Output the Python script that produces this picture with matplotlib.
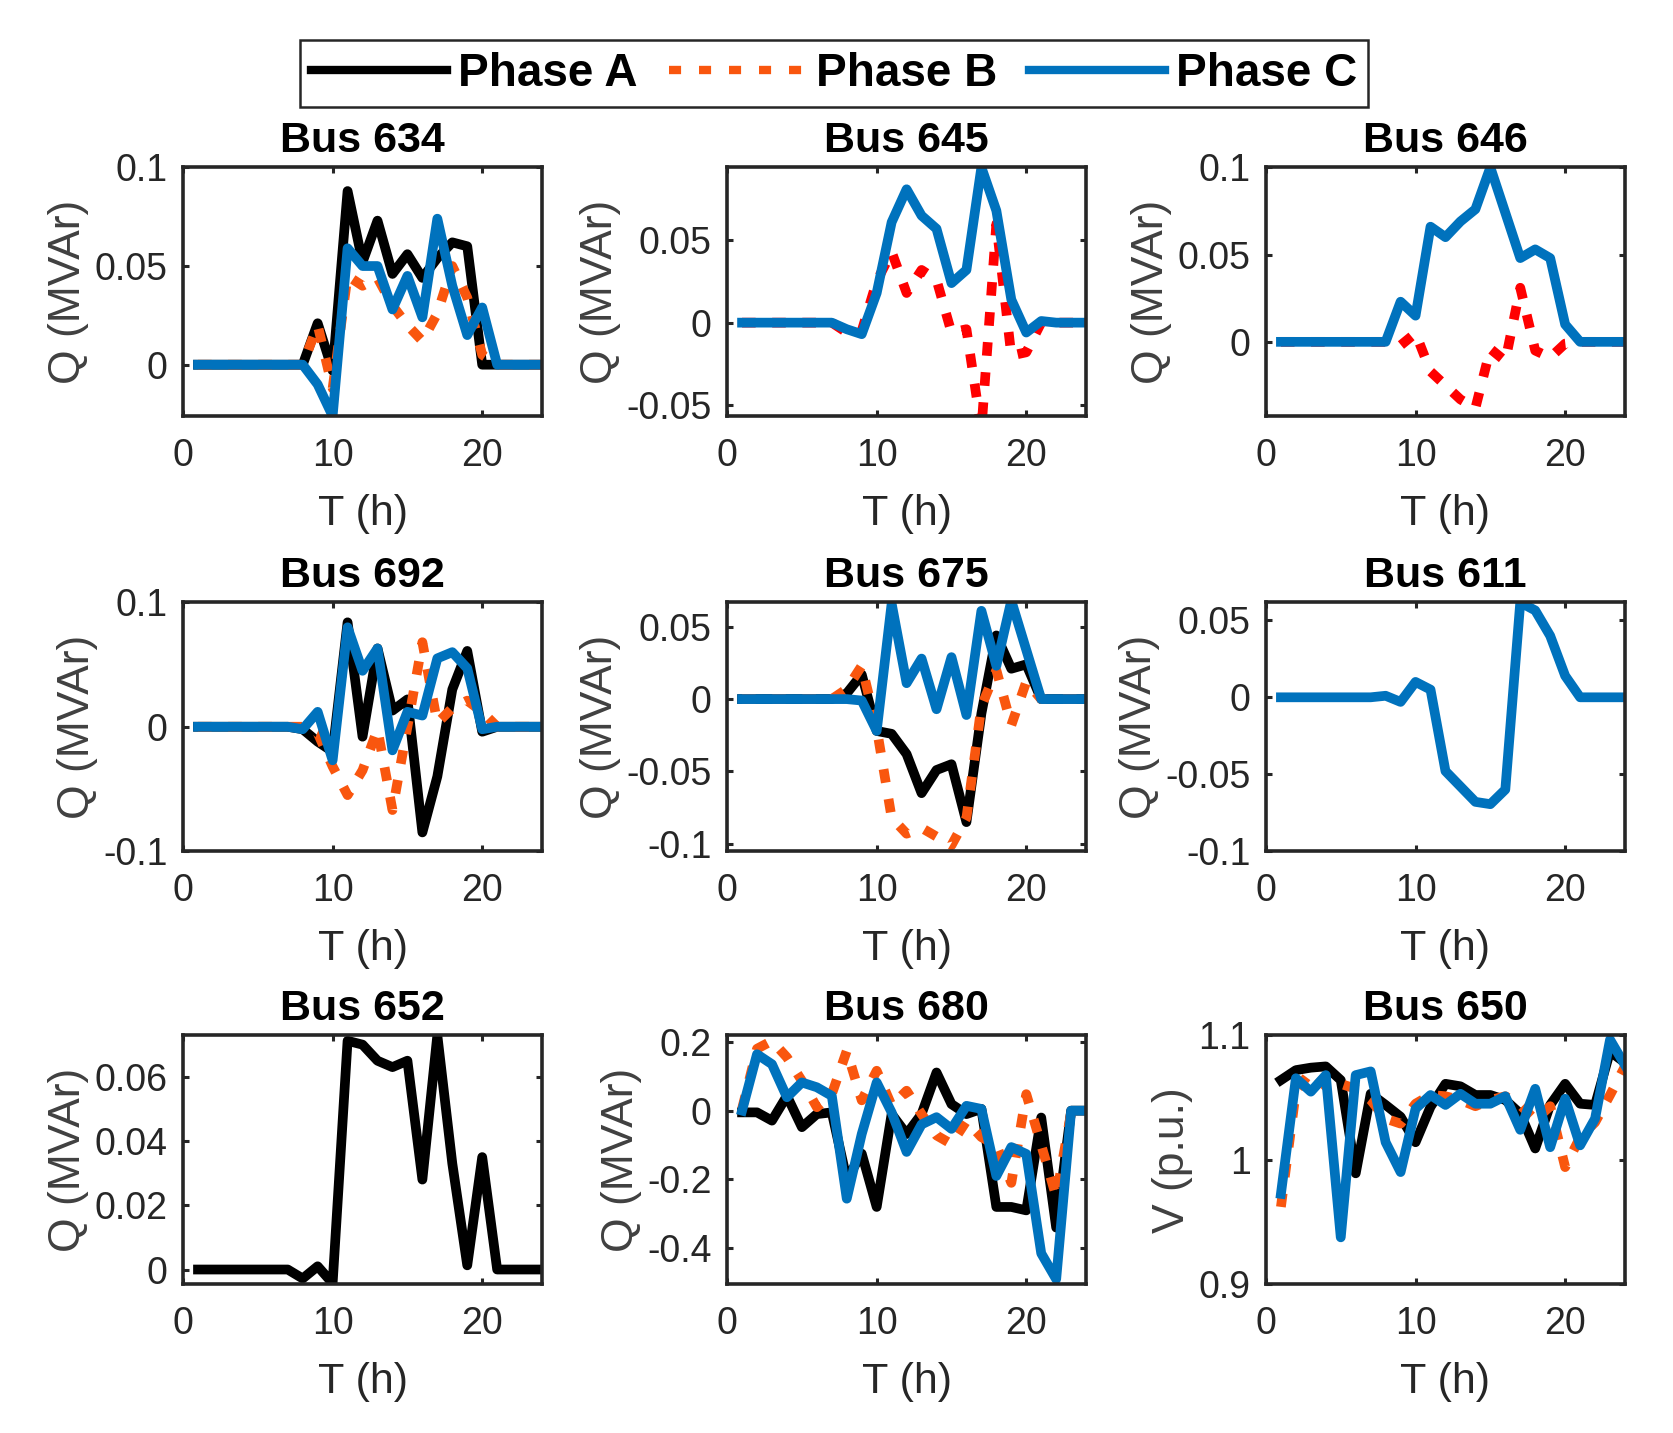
import numpy as np
import matplotlib.pyplot as plt
from matplotlib.lines import Line2D
from matplotlib.ticker import FuncFormatter

plt.rcParams['font.family'] = ['Liberation Sans', 'DejaVu Sans']
plt.rcParams['axes.unicode_minus'] = False

hours = np.arange(1, 25)

# Bus 634
q634_a = [0, 0, 0, 0, 0, 0, 0, 0, 0.021, -0.003, 0.088, 0.052, 0.073, 0.046, 0.056, 0.044,
          0.054, 0.062, 0.060, 0, 0, 0, 0, 0]
q634_b = [0, 0, 0, 0, 0, 0, 0, 0, 0.020, -0.012, 0.045, 0.040, 0.044, 0.030, 0.020, 0.012,
          0.026, 0.050, 0.034, 0.005, 0, 0, 0, 0]
q634_c = [0, 0, 0, 0, 0, 0, 0, 0, -0.010, -0.026, 0.059, 0.050, 0.050, 0.028, 0.045, 0.024,
          0.074, 0.040, 0.015, 0.029, 0, 0, 0, 0]
# Bus 645
q645_b = [0, 0, 0, 0, 0, 0, 0, -0.006, -0.005, 0.025, 0.043, 0.018, 0.032, 0.026, -0.006, -0.004,
          -0.065, 0.060, -0.020, -0.018, 0, 0, 0, 0]
q645_c = [0, 0, 0, 0, 0, 0, 0, -0.004, -0.007, 0.018, 0.061, 0.081, 0.065, 0.057, 0.024, 0.032,
          0.0943, 0.068, 0.014, -0.006, 0.001, 0, 0, 0]
# Bus 646
q646_b = [0, 0, 0, 0, 0, 0, 0, 0, -0.002, 0.005, -0.017, -0.025, -0.033, -0.038, -0.004, -0.011,
          0.031, -0.005, -0.009, -0.001, 0, 0, 0, 0]
q646_c = [0, 0, 0, 0, 0, 0, 0, 0, 0.023, 0.015, 0.066, 0.060, 0.069, 0.076, 0.100, 0.074,
          0.048, 0.053, 0.048, 0.010, 0, 0, 0, 0]
# Bus 692
q692_a = [0, 0, 0, 0, 0, 0, 0, -0.002, -0.012, -0.020, 0.084, -0.008, 0.063, 0.013, 0.022, -0.085,
          -0.040, 0.030, 0.061, -0.004, 0, 0, 0, 0]
q692_b = [0, 0, 0, 0, 0, 0, 0, 0, -0.005, -0.032, -0.055, -0.035, -0.002, -0.067, 0.0, 0.068,
          0.003, 0.015, 0.021, 0.012, 0, 0, 0, 0]
q692_c = [0, 0, 0, 0, 0, 0, 0, -0.002, 0.012, -0.027, 0.080, 0.045, 0.063, -0.019, 0.012, 0.009,
          0.055, 0.060, 0.047, -0.002, 0, 0, 0, 0]
# Bus 675
q675_a = [0, 0, 0, 0, 0, 0, 0, 0.004, 0.017, -0.022, -0.024, -0.038, -0.065, -0.049, -0.045, -0.085,
          -0.010, 0.044, 0.021, 0.024, 0, 0, 0, 0]
q675_b = [0, 0, 0, 0, 0, 0, 0, 0.007, 0.023, -0.020, -0.082, -0.093, -0.089, -0.095, -0.101, -0.082,
          -0.005, 0.020, -0.018, 0.012, 0, 0, 0, 0]
q675_c = [0, 0, 0, 0, 0, 0, 0, 0, -0.001, -0.022, 0.066, 0.011, 0.028, -0.007, 0.029, -0.011,
          0.061, 0.023, 0.068, 0.034, 0, 0, 0, 0]
# Bus 611
q611_c = [0, 0, 0, 0, 0, 0, 0, 0.001, -0.003, 0.010, 0.005, -0.048, -0.058, -0.068, -0.0695, -0.060,
          0.0617, 0.0565, 0.040, 0.014, 0, 0, 0, 0]
# Bus 652
q652_a = [0, 0, 0, 0, 0, 0, 0, -0.0028, 0.001, -0.0043, 0.0712, 0.070, 0.065, 0.063, 0.065, 0.028,
          0.0729, 0.033, 0.0013, 0.035, 0, 0, 0, 0]
# Bus 680
q680_a = [-0.005, -0.005, -0.029, 0.043, -0.048, -0.010, -0.005, -0.200, -0.125, -0.280, -0.010, -0.068,
          -0.010, 0.111, 0.019, -0.010, 0.005, -0.280, -0.280, -0.290, -0.020, -0.340, 0, 0]
q680_b = [0.005, 0.180, 0.203, 0.155, 0.087, 0.010, 0.048, 0.174, 0.030, 0.116, 0.015, 0.058,
          -0.010, -0.072, -0.097, -0.030, -0.077, -0.100, -0.210, 0.048, -0.100, -0.250, -0.005, 0]
q680_c = [0, 0.164, 0.135, 0.039, 0.082, 0.068, 0.043, -0.256, -0.068, 0.082, -0.005, -0.120,
          -0.040, -0.019, -0.053, 0.014, 0.005, -0.190, -0.106, -0.126, -0.415, -0.490, 0, 0]
# Bus 650 (voltage)
v650_a = [1.064, 1.072, 1.074, 1.075, 1.064, 0.989, 1.053, 1.044, 1.0345, 1.014, 1.0425, 1.061,
          1.059, 1.052, 1.052, 1.048, 1.037, 1.009, 1.044, 1.061, 1.045, 1.044, 1.087, 1.078]
v650_b = [0.962, 1.055, 1.071, 1.059, 1.061, 1.057, 1.048, 1.033, 1.029, 1.045, 1.052, 1.051,
          1.048, 1.043, 1.048, 1.051, 1.044, 1.032, 1.043, 0.994, 1.018, 1.030, 1.052, 1.075]
v650_c = [0.9725, 1.0655, 1.0547, 1.068, 0.9375, 1.068, 1.071, 1.014, 0.990, 1.041, 1.052, 1.044,
          1.053, 1.045, 1.045, 1.051, 1.024, 1.057, 1.010, 1.049, 1.0115, 1.033, 1.0965, 1.076]

titles = ['Bus 634', 'Bus 645', 'Bus 646', 'Bus 692', 'Bus 675', 'Bus 611',
          'Bus 652', 'Bus 680', 'Bus 650']

# (phase A, phase B, phase C) per bus, None = phase not present
series = [
    (q634_a, q634_b, q634_c),
    (None, q645_b, q645_c),
    (None, q646_b, q646_c),
    (q692_a, q692_b, q692_c),
    (q675_a, q675_b, q675_c),
    (None, None, q611_c),
    (q652_a, None, None),
    (q680_a, q680_b, q680_c),
    (v650_a, v650_b, v650_c),
]
ylims = [(-0.026, 0.1), (-0.0567, 0.0943), (-0.0425, 0.1),
         (-0.1, 0.1), (-0.105, 0.0668), (-0.1, 0.0617),
         (-0.0045, 0.0729), (-0.504, 0.219), (0.9, 1.1)]
yticks = [[0, 0.05, 0.1], [-0.05, 0, 0.05], [0, 0.05, 0.1],
          [-0.1, 0, 0.1], [-0.1, -0.05, 0, 0.05], [-0.1, -0.05, 0, 0.05],
          [0, 0.02, 0.04, 0.06], [-0.4, -0.2, 0, 0.2], [0.9, 1, 1.1]]

black = '#000000'
orange = '#F9560E'
red = '#FF0000'
blue = '#0072BD'
lw = 7
dots = (1.4, 1.7)

fig = plt.figure(figsize=(16.73, 14.33), dpi=100)
lefts = [0.1094, 0.4346, 0.7567]
bottoms = [0.7097, 0.4061, 0.104]
w, h = 0.2146, 0.1735

for i, (a, b, c) in enumerate(series):
    ax = fig.add_axes([lefts[i % 3], bottoms[i // 3], w, h])
    bcol = red if i in (1, 2) else orange
    if a is not None:
        ax.plot(hours, a, color=black, lw=lw)
    if b is not None:
        ax.plot(hours, b, color=bcol, lw=lw, dashes=dots, dash_capstyle='butt')
    if c is not None:
        ax.plot(hours, c, color=blue, lw=lw)
    ax.set_xlim(0, 24)
    ax.set_ylim(*ylims[i])
    ax.set_xticks([0, 10, 20])
    ax.set_yticks(yticks[i])
    ax.yaxis.set_major_formatter(FuncFormatter(lambda v, p: '%g' % round(v, 4)))
    ax.tick_params(direction='in', top=True, right=True, length=4, width=2.2,
                   labelsize=27, labelcolor='#262626', color='#262626')
    ax.tick_params(axis='x', pad=16)
    ax.tick_params(axis='y', pad=11)
    for s in ax.spines.values():
        s.set_linewidth(2.6)
        s.set_color('#262626')
    ax.set_title(titles[i], fontsize=31, fontweight='bold', pad=11)
    ax.set_xlabel('T (h)', fontsize=31, color='#262626', labelpad=14)
    ax.set_ylabel('V (p.u.)' if i == 8 else 'Q (MVAr)', fontsize=32, color='#404040', labelpad=4)

handles = [Line2D([], [], color=black, lw=6),
           Line2D([], [], color=orange, lw=6, dashes=(1.45, 2.15), dash_capstyle='butt'),
           Line2D([], [], color=blue, lw=6)]
leg = fig.legend(handles, ['Phase A', 'Phase B', 'Phase C'], loc='upper center',
                 bbox_to_anchor=(0.4985, 0.972), ncol=3, fancybox=False, framealpha=1,
                 edgecolor='#262626', prop={'weight': 'bold', 'size': 33},
                 handlelength=2.97, handletextpad=0.24, columnspacing=0.68,
                 borderpad=0.25, borderaxespad=0)
leg.get_frame().set_linewidth(1.8)

fig.savefig('out.png', dpi=100)
